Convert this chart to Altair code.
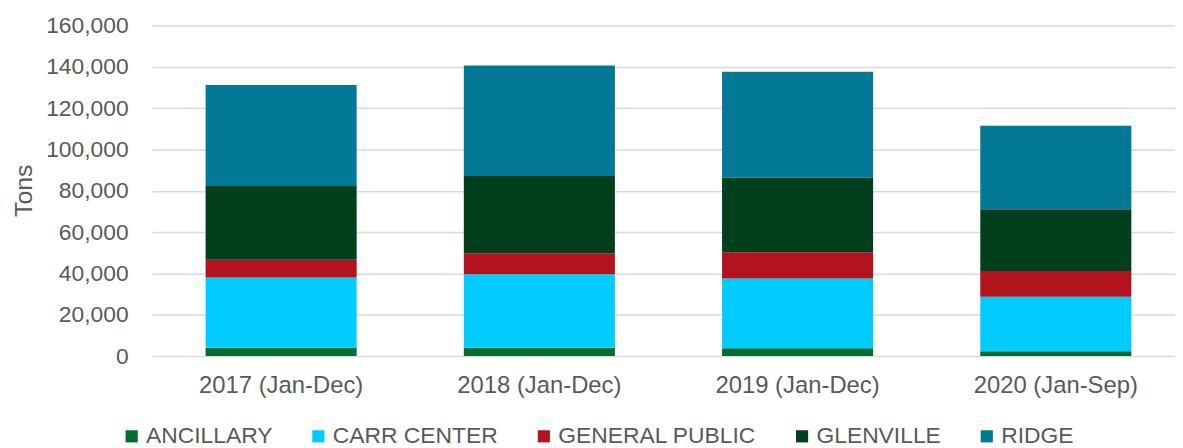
import altair as alt
import pandas as pd

categories = ["2017 (Jan-Dec)", "2018 (Jan-Dec)", "2019 (Jan-Dec)", "2020 (Jan-Sep)"]
series = ["ANCILLARY", "CARR CENTER", "GENERAL PUBLIC", "GLENVILLE", "RIDGE"]
colors = ["#046B31", "#00CCFF", "#B3131F", "#013F1D", "#007896"]

ancillary = [4000, 4000, 3850, 2400]
carr_center = [34000, 35550, 33650, 26300]
general_public = [8600, 10250, 12800, 12500]
glenville = [35700, 37300, 36050, 29800]
ridge = [48900, 53550, 51250, 40500]

values = [ancillary, carr_center, general_public, glenville, ridge]
rows = []
for si, (name, vals) in enumerate(zip(series, values)):
    for cat, v in zip(categories, vals):
        rows.append({"period": cat, "series": name, "tons": v, "idx": si})
df = pd.DataFrame(rows)

FONT = "Liberation Sans"
TXT = "#595959"

chart = alt.Chart(df).mark_bar().encode(
    x=alt.X(
        "period:N",
        sort=categories,
        scale=alt.Scale(paddingInner=0.415, paddingOuter=0.2075, range=[2, 1042]),
        axis=alt.Axis(title=None, labelAngle=0, labelFontSize=24, labelColor=TXT,
                      labelFont=FONT, labelPadding=18, domain=False, ticks=False,
                      tickSize=0, grid=False),
    ),
    y=alt.Y(
        "tons:Q",
        stack="zero",
        scale=alt.Scale(domain=[0, 160000], nice=False),
        axis=alt.Axis(title="Tons", values=list(range(0, 160001, 20000)), format=",d",
                      labelFontSize=23, labelColor=TXT, labelFont=FONT, labelPadding=22,
                      domain=False, ticks=False, tickSize=0,
                      grid=True, gridColor="#d9d9d9", gridWidth=1.5,
                      titleFontSize=25, titleFont=FONT, titleColor=TXT,
                      titleFontWeight="normal", titleX=-119, titleY=166,
                      titleBaseline="alphabetic", titleAlign="center", titleAngle=270),
    ),
    color=alt.Color(
        "series:N",
        scale=alt.Scale(domain=series, range=colors),
        legend=alt.Legend(title=None, orient="none", legendX=-30, legendY=402,
                          direction="horizontal", columns=5, symbolType="square",
                          symbolSize=150, symbolStrokeWidth=0, labelFontSize=23,
                          labelFont=FONT, labelColor=TXT, labelOffset=3,
                          labelLimit=600, columnPadding=34, padding=0),
    ),
    order=alt.Order("idx:Q", sort="ascending"),
).properties(
    width=1032,
    height=333,
    autosize=alt.AutoSizeParams(type="none"),
    padding={"left": 143, "top": 16, "right": 0, "bottom": 91},
).configure_view(stroke=None)

chart.save("out.html", embed_options={"renderer": "svg", "actions": False})
